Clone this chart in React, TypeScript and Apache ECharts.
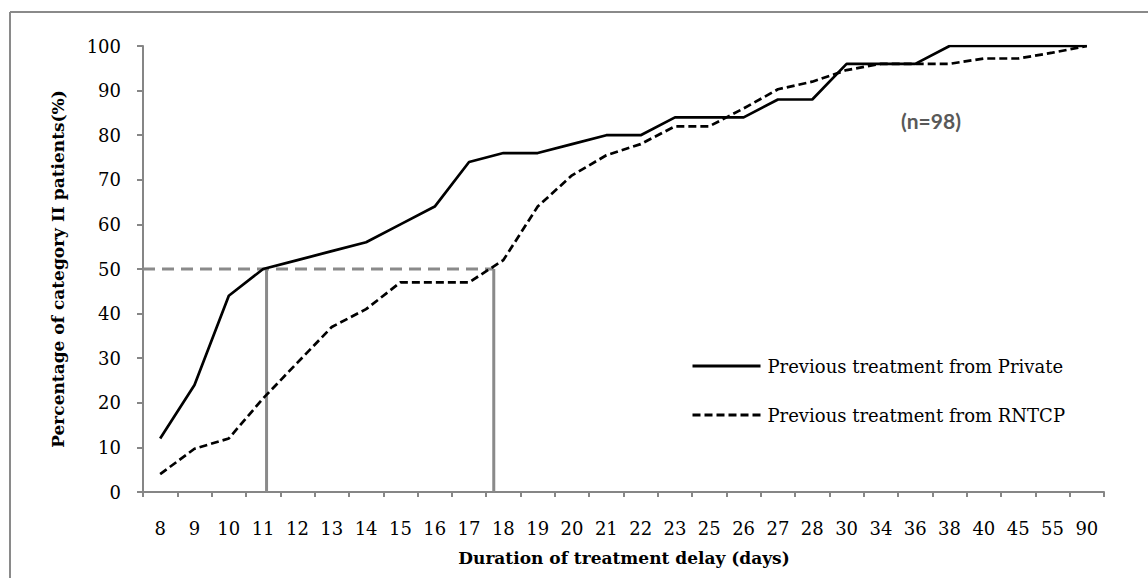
import React, { useEffect, useRef } from "react";
import * as echarts from "echarts";

const categories = ["8","9","10","11","12","13","14","15","16","17","18","19","20","21","22","23","25","26","27","28","30","34","36","38","40","45","55","90"];
const privateValues = [12,24,44,50,52,54,56,60,64,74,76,76,78,80,80,84,84,84,88,88,96,96,96,100,100,100,100,100];
const rntcpValues = [4,9.7,12,21,29,37,41,47,47,47,52,64,71,75.5,78,82,82,86,90.3,92,94.6,96,96,96,97.2,97.2,98.5,100];
const seriesNames = ["Previous treatment from Private", "Previous treatment from RNTCP"];
// median reference: 50% level, crossing positions on the category scale (band units)
const medianLevel = 50;
const medianPositions = [3.6, 10.22];

const SERIF = "DejaVu Serif";

export default function App() {
  const ref = useRef<HTMLDivElement>(null);
  useEffect(() => {
    if (!ref.current) return;
    const chart = echarts.init(ref.current, undefined, { renderer: "svg" });
    const gray = "#8a8a8a";
    const axisGray = "#868686";
    chart.setOption({
      animation: false,
      backgroundColor: "#ffffff",
      grid: { left: 143, right: 44, top: 46, bottom: 86, containLabel: false },
      xAxis: [
        {
          type: "category",
          data: categories,
          boundaryGap: true,
          axisLine: { lineStyle: { color: axisGray, width: 2 } },
          axisTick: { show: true, length: 5, lineStyle: { color: axisGray, width: 2 } },
          axisLabel: { color: "#000", fontFamily: SERIF, fontSize: 18, margin: 27, interval: 0 },
          splitLine: { show: false },
        },
        {
          type: "value",
          min: 0,
          max: categories.length,
          show: false,
          splitLine: { show: false },
        },
      ],
      yAxis: {
        type: "value",
        min: 0,
        max: 100,
        interval: 10,
        axisLine: { show: true, lineStyle: { color: axisGray, width: 2 } },
        axisTick: { show: true, length: 6, lineStyle: { color: axisGray, width: 2 } },
        axisLabel: { color: "#000", fontFamily: SERIF, fontSize: 18, margin: 22 },
        splitLine: { show: false },
      },
      legend: {
        orient: "vertical",
        left: 691,
        top: 357,
        padding: 0,
        itemWidth: 68,
        itemHeight: 20,
        itemGap: 31,
        itemStyle: { opacity: 0 },
        lineStyle: { width: 3 },
        textStyle: { color: "#000", fontFamily: SERIF, fontSize: 18, padding: [0, 0, 0, 2] },
        data: seriesNames,
      },
      graphic: [
        { type: "line", shape: { x1: 10, y1: 12, x2: 1148, y2: 12 }, style: { stroke: gray, lineWidth: 2 } },
        { type: "line", shape: { x1: 10, y1: 12, x2: 10, y2: 578 }, style: { stroke: gray, lineWidth: 2 } },
        {
          type: "text",
          x: 58,
          y: 269,
          rotation: Math.PI / 2,
          style: {
            text: "Percentage of category II patients(%)",
            fontFamily: SERIF,
            fontWeight: "bold",
            fontSize: 17,
            fill: "#000",
            align: "center",
            verticalAlign: "middle",
          },
        },
        {
          type: "text",
          x: 624,
          y: 558,
          style: {
            text: "Duration of treatment delay (days)",
            fontFamily: SERIF,
            fontWeight: "bold",
            fontSize: 17,
            fill: "#000",
            align: "center",
            verticalAlign: "middle",
          },
        },
        {
          type: "text",
          x: 931,
          y: 120,
          style: {
            text: "(n=98)",
            fontFamily: "Lato",
            fontWeight: "bold",
            fontSize: 21,
            fill: "#595959",
            align: "center",
            verticalAlign: "middle",
          },
        },
      ],
      series: [
        {
          name: "median-h",
          type: "line",
          xAxisIndex: 1,
          data: [[0, medianLevel], [medianPositions[1], medianLevel]],
          symbol: "none",
          lineStyle: { color: gray, width: 3, type: [12, 7] },
          z: 1,
          silent: true,
        },
        {
          name: "median-v1",
          type: "line",
          xAxisIndex: 1,
          data: [[medianPositions[0], 0], [medianPositions[0], medianLevel]],
          symbol: "none",
          lineStyle: { color: gray, width: 3 },
          z: 1,
          silent: true,
        },
        {
          name: "median-v2",
          type: "line",
          xAxisIndex: 1,
          data: [[medianPositions[1], 0], [medianPositions[1], medianLevel]],
          symbol: "none",
          lineStyle: { color: gray, width: 3 },
          z: 1,
          silent: true,
        },
        {
          name: seriesNames[0],
          type: "line",
          data: privateValues,
          symbol: "none",
          itemStyle: { color: "#000" },
          lineStyle: { color: "#000", width: 2.7 },
          z: 3,
        },
        {
          name: seriesNames[1],
          type: "line",
          data: rntcpValues,
          symbol: "none",
          itemStyle: { color: "#000" },
          lineStyle: { color: "#000", width: 2.7, type: [8, 4] },
          z: 3,
        },
      ],
    });
    return () => chart.dispose();
  }, []);
  return (
    <div
      ref={ref}
      style={{ position: "fixed", left: 0, top: 0, width: 1148, height: 578, background: "#fff" }}
    />
  );
}
